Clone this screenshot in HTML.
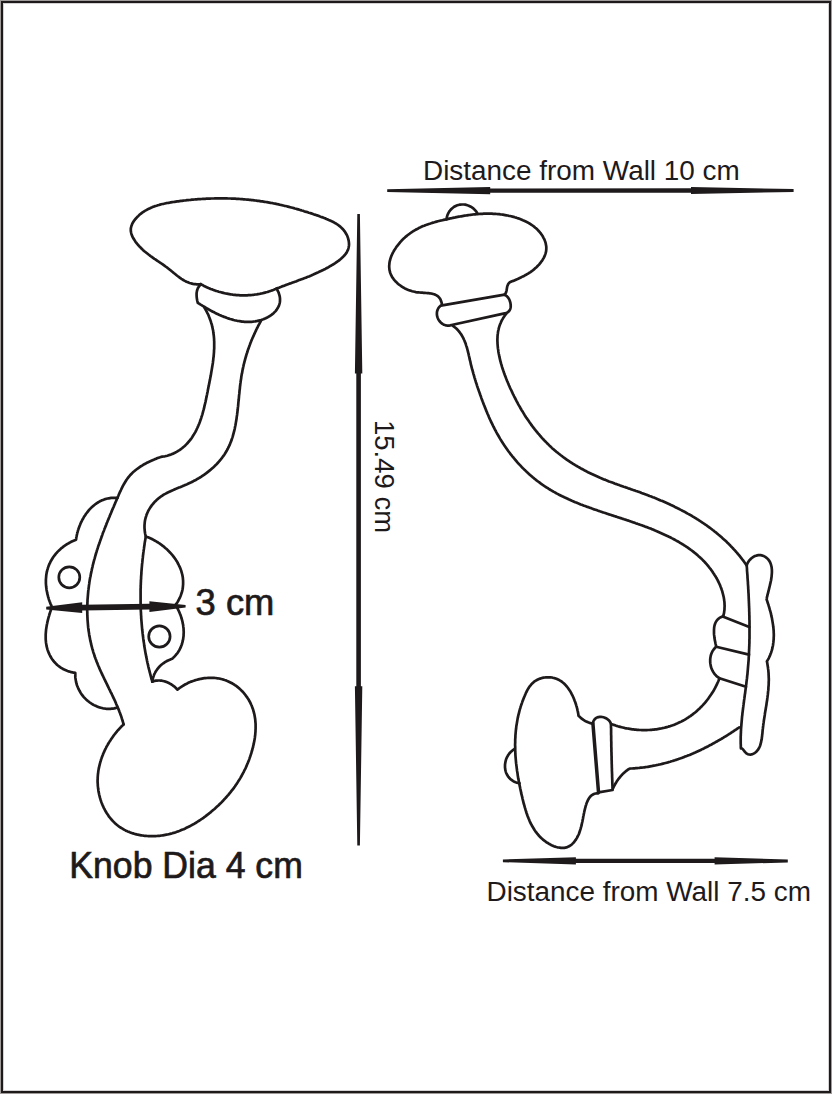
<!DOCTYPE html>
<html><head><meta charset="utf-8"><title>Hook dimensions</title>
<style>html,body{margin:0;padding:0;background:#fff;}body{width:832px;height:1094px;overflow:hidden;font-family:"Liberation Sans",sans-serif;}svg{display:block;}</style>
</head><body>
<svg width="832" height="1094" viewBox="0 0 832 1094">
<rect x="0" y="0" width="832" height="1094" fill="#a09b9b"/>
<rect x="1" y="1" width="830" height="1092" fill="#1e1a1b"/>
<rect x="3" y="3" width="826" height="1088" fill="#fff"/>
<rect x="3.5" y="3.5" width="825" height="1087" fill="none" stroke="#d4d2d2" stroke-width="1"/>
<g fill="none" stroke="#1e1a1b" stroke-width="2.7" stroke-linejoin="round" stroke-linecap="round">
<path d="M200.8 284.2L199.4 284.3L198.1 284.3L196.8 284.3L195.5 284.2L194.3 284.1L193.1 283.9L191.9 283.6L190.7 283.3L189.6 283.0L188.5 282.6L187.4 282.1L186.4 281.7L185.3 281.1L184.3 280.6L183.3 280.0L182.3 279.4L181.3 278.8L180.4 278.1L179.4 277.4L178.5 276.7L177.5 276.0L176.6 275.3L175.7 274.5L174.8 273.8L173.8 273.0L172.9 272.2L172.0 271.5L171.1 270.7L170.1 270.0L169.2 269.2L168.2 268.5L167.3 267.7L166.3 267.0L165.3 266.3L164.4 265.6L163.4 264.9L162.4 264.2L161.4 263.5L160.4 262.8L159.4 262.2L158.4 261.5L157.4 260.8L156.4 260.1L155.4 259.4L154.4 258.8L153.4 258.1L152.4 257.4L151.4 256.7L150.4 256.0L149.5 255.2L148.5 254.5L147.6 253.8L146.6 253.0L145.7 252.3L144.7 251.5L143.8 250.7L142.9 249.9L142.0 249.0L141.2 248.2L140.3 247.3L139.4 246.5L138.6 245.5L137.8 244.6L137.0 243.7L136.2 242.7L135.5 241.7L134.8 240.6L134.1 239.6L133.5 238.5L132.9 237.5L132.3 236.4L131.9 235.3L131.5 234.2L131.2 233.1L131.0 232.0L130.8 230.9L130.8 229.8L130.8 228.7L131.0 227.6L131.3 226.5L131.6 225.4L132.0 224.4L132.5 223.3L133.1 222.3L133.7 221.3L134.4 220.3L135.1 219.4L135.9 218.5L136.7 217.6L137.5 216.7L138.4 215.9L139.2 215.1L140.1 214.3L141.0 213.6L141.9 212.9L142.9 212.2L143.8 211.6L144.8 210.9L145.8 210.4L146.8 209.8L147.8 209.2L148.9 208.7L150.0 208.2L151.0 207.7L152.1 207.3L153.2 206.8L154.3 206.4L155.5 206.0L156.6 205.7L157.8 205.3L158.9 205.0L160.1 204.6L161.3 204.3L162.5 204.0L163.7 203.8L164.9 203.5L166.1 203.2L167.3 203.0L168.5 202.8L169.7 202.6L170.9 202.3L172.2 202.1L173.4 202.0L174.6 201.8L175.9 201.6L177.1 201.4L178.3 201.3L179.6 201.1L180.8 200.9L182.0 200.8L183.3 200.6L184.5 200.5L185.7 200.4L187.0 200.2L188.2 200.1L189.4 200.0L190.6 199.9L191.9 199.7L193.1 199.6L194.3 199.5L195.5 199.4L196.7 199.3L198.0 199.2L199.2 199.2L200.4 199.1L201.6 199.0L202.8 198.9L204.0 198.9L205.2 198.8L206.4 198.7L207.7 198.7L208.9 198.6L210.1 198.6L211.3 198.5L212.5 198.5L213.7 198.5L214.9 198.4L216.1 198.4L217.3 198.4L218.5 198.4L219.7 198.4L220.9 198.4L222.1 198.4L223.3 198.4L224.5 198.4L225.7 198.4L226.9 198.4L228.0 198.5L229.2 198.5L230.4 198.5L231.6 198.6L232.8 198.6L234.0 198.7L235.2 198.7L236.4 198.8L237.6 198.9L238.7 198.9L239.9 199.0L241.1 199.1L242.3 199.2L243.5 199.3L244.7 199.4L245.8 199.5L247.0 199.6L248.2 199.7L249.4 199.8L250.5 199.9L251.7 200.1L252.9 200.2L254.1 200.3L255.2 200.5L256.4 200.6L257.6 200.8L258.8 200.9L259.9 201.1L261.1 201.3L262.3 201.4L263.4 201.6L264.6 201.8L265.8 202.0L266.9 202.2L268.1 202.4L269.3 202.6L270.4 202.8L271.6 203.0L272.8 203.2L273.9 203.5L275.1 203.7L276.2 203.9L277.4 204.2L278.6 204.4L279.7 204.7L280.9 205.0L282.0 205.2L283.2 205.5L284.4 205.8L285.5 206.0L286.7 206.3L287.8 206.6L289.0 206.9L290.2 207.2L291.3 207.5L292.5 207.8L293.7 208.1L294.8 208.5L296.0 208.8L297.1 209.1L298.3 209.4L299.5 209.8L300.6 210.1L301.8 210.5L303.0 210.8L304.1 211.2L305.3 211.6L306.5 211.9L307.7 212.3L308.8 212.7L310.0 213.0L311.2 213.4L312.4 213.8L313.5 214.2L314.7 214.6L315.9 215.0L317.1 215.4L318.3 215.8L319.5 216.3L320.6 216.7L321.8 217.1L323.0 217.5L324.2 218.0L325.4 218.4L326.5 218.9L327.7 219.4L328.8 219.9L330.0 220.4L331.1 220.9L332.2 221.5L333.3 222.0L334.3 222.6L335.4 223.2L336.4 223.8L337.4 224.5L338.4 225.2L339.3 225.9L340.2 226.6L341.1 227.4L341.9 228.2L342.7 229.0L343.5 229.9L344.2 230.8L344.9 231.7L345.5 232.7L346.1 233.7L346.7 234.7L347.2 235.8L347.6 236.9L348.0 238.0L348.3 239.1L348.6 240.3L348.8 241.4L348.9 242.5L349.0 243.7L349.0 244.8L348.9 245.9L348.7 247.0L348.5 248.1L348.2 249.2L347.8 250.2L347.3 251.2L346.8 252.2L346.2 253.2L345.5 254.1L344.8 255.0L344.0 255.9L343.1 256.8L342.3 257.6L341.3 258.5L340.4 259.3L339.4 260.1L338.4 260.9L337.3 261.6L336.2 262.4L335.2 263.1L334.1 263.8L333.0 264.5L331.9 265.1L330.8 265.8L329.7 266.4L328.6 267.1L327.5 267.7L326.4 268.3L325.3 268.9L324.2 269.4L323.1 270.0L322.0 270.5L320.9 271.1L319.8 271.6L318.7 272.1L317.7 272.6L316.6 273.1L315.5 273.6L314.4 274.1L313.3 274.6L312.3 275.0L311.2 275.5L310.1 275.9L309.0 276.4L307.9 276.8L306.8 277.2L305.8 277.7L304.7 278.1L303.6 278.5L302.5 278.9L301.4 279.3L300.3 279.7L299.2 280.1L298.1 280.5L297.0 280.9L295.9 281.4L294.8 281.8L293.7 282.2L292.6 282.6L291.5 283.0L290.4 283.4L289.2 283.8L288.1 284.2L287.0 284.6L285.8 285.0L284.7 285.5L283.6 285.9L282.4 286.3L281.3 286.8L280.1 287.2L278.9 287.7L277.8 288.1L276.6 288.6L275.5 289.1L274.3 289.6L273.2 290.0L272.0 290.4L270.9 290.8L269.7 291.2L268.6 291.6L267.4 292.0L266.2 292.3L265.1 292.6L263.9 292.9L262.7 293.2L261.6 293.5L260.4 293.7L259.2 294.0L258.0 294.2L256.8 294.4L255.6 294.5L254.4 294.7L253.2 294.8L252.0 295.0L250.8 295.1L249.6 295.2L248.4 295.2L247.2 295.3L246.0 295.3L244.8 295.4L243.6 295.4L242.4 295.4L241.2 295.3L240.0 295.3L238.8 295.2L237.6 295.1L236.4 295.1L235.2 294.9L234.0 294.8L232.8 294.7L231.7 294.5L230.5 294.3L229.3 294.1L228.1 293.9L226.9 293.7L225.7 293.5L224.5 293.2L223.4 292.9L222.2 292.6L221.0 292.3L219.9 292.0L218.7 291.7L217.6 291.3L216.4 291.0L215.2 290.6L214.1 290.2L213.0 289.8L211.8 289.3L210.7 288.9L209.6 288.4L208.5 288.0L207.3 287.5L206.2 287.0L205.1 286.4L204.0 285.9L203.0 285.3L201.9 284.8L200.8 284.2"/>
<path d="M200.8 284.6L199.8 285.4L199.0 286.4L198.3 287.4L197.8 288.4L197.4 289.5L197.0 290.7L196.8 291.9L196.6 293.1L196.6 294.4L196.6 295.6L196.7 296.9L196.8 298.1L197.0 299.3L197.2 300.5L197.5 301.7L197.8 302.8L198.7 303.4L199.7 304.0L200.6 304.6L201.6 305.2L202.6 305.8L203.6 306.4L204.6 307.0L205.6 307.6L206.6 308.2L207.6 308.8L208.7 309.4L209.7 310.0L210.8 310.6L211.9 311.2L213.0 311.8L214.1 312.3L215.2 312.9L216.3 313.4L217.4 313.9L218.5 314.5L219.6 315.0L220.8 315.5L221.9 316.0L223.1 316.4L224.2 316.9L225.4 317.3L226.5 317.8L227.7 318.2L228.9 318.6L230.1 319.0L231.3 319.3L232.4 319.6L233.6 320.0L234.8 320.3L236.0 320.5L237.2 320.8L238.4 321.0L239.6 321.2L240.8 321.4L242.0 321.6L243.2 321.7L244.4 321.8L245.6 321.9L246.8 321.9L248.0 321.9L249.2 321.9L250.4 321.9L251.6 321.8L252.8 321.7L254.0 321.5L255.2 321.4L256.4 321.2L257.6 320.9L258.8 320.6L260.0 320.3L261.1 320.0L262.3 319.6L263.4 319.2L264.5 318.7L265.7 318.2L266.7 317.7L267.8 317.2L268.8 316.6L269.8 316.0L270.8 315.3L271.8 314.6L272.7 313.9L273.5 313.2L274.3 312.4L275.1 311.6L275.8 310.8L276.5 309.9L277.1 309.0L277.7 308.1L278.2 307.2L278.7 306.2L279.1 305.2L279.4 304.2L279.7 303.1L279.9 302.0L280.0 300.9L280.0 299.8L280.0 298.7L279.9 297.5L279.7 296.3L279.4 295.1L279.0 293.8L278.6 292.5L278.0 291.3L277.3 289.9L276.6 288.6"/>
<path d="M204.4 307.6L205.1 308.7L205.7 309.8L206.3 310.9L206.9 312.0L207.4 313.1L208.0 314.2L208.5 315.3L208.9 316.4L209.4 317.6L209.8 318.7L210.2 319.8L210.6 320.9L211.0 322.1L211.3 323.2L211.7 324.3L212.0 325.4L212.2 326.6L212.5 327.7L212.7 328.9L213.0 330.0L213.2 331.1L213.3 332.3L213.5 333.4L213.6 334.6L213.8 335.7L213.9 336.9L214.0 338.0L214.1 339.2L214.1 340.4L214.2 341.5L214.2 342.7L214.2 343.8L214.2 345.0L214.2 346.2L214.2 347.3L214.2 348.5L214.1 349.7L214.0 350.9L214.0 352.0L213.9 353.2L213.8 354.4L213.7 355.6L213.6 356.8L213.4 358.0L213.3 359.2L213.2 360.3L213.0 361.5L212.9 362.7L212.7 363.9L212.5 365.1L212.3 366.3L212.1 367.5L211.9 368.7L211.7 369.9L211.5 371.1L211.3 372.3L211.1 373.5L210.9 374.7L210.7 375.9L210.4 377.2L210.2 378.4L210.0 379.6L209.7 380.8L209.5 382.0L209.3 383.2L209.0 384.4L208.8 385.7L208.5 386.9L208.3 388.1L208.0 389.3L207.8 390.6L207.6 391.8L207.3 393.0L207.1 394.2L206.8 395.5L206.6 396.7L206.3 397.9L206.1 399.1L205.8 400.3L205.6 401.5L205.3 402.8L205.0 404.0L204.7 405.2L204.4 406.4L204.2 407.6L203.9 408.7L203.6 409.9L203.2 411.1L202.9 412.3L202.6 413.5L202.3 414.6L201.9 415.8L201.5 416.9L201.2 418.1L200.8 419.2L200.4 420.3L200.0 421.5L199.6 422.6L199.2 423.7L198.7 424.8L198.3 425.8L197.8 426.9L197.3 428.0L196.8 429.0L196.3 430.1L195.8 431.1L195.3 432.1L194.7 433.1L194.1 434.1L193.5 435.1L192.9 436.0L192.3 437.0L191.7 437.9L191.0 438.9L190.3 439.8L189.6 440.7L188.9 441.5L188.1 442.4L187.4 443.3L186.6 444.1L185.8 444.9L185.0 445.7L184.1 446.5L183.2 447.2L182.3 448.0L181.4 448.7L180.5 449.4L179.5 450.1L178.5 450.7L177.5 451.3L176.5 451.9L175.4 452.5L174.4 453.0L173.3 453.6L172.1 454.0L171.0 454.5L169.8 454.9L168.6 455.3L167.4 455.7L166.2 456.0L164.9 456.3L163.6 456.5L162.3 456.7L161.0 456.9L159.9 457.3L158.7 457.7L157.6 458.1L156.5 458.6L155.3 459.0L154.2 459.5L153.1 459.9L151.9 460.4L150.8 460.9L149.7 461.5L148.6 462.0L147.5 462.6L146.4 463.1L145.3 463.7L144.2 464.3L143.1 464.9L142.1 465.6L141.0 466.2L140.0 466.9L139.0 467.6L138.0 468.3L137.0 469.0L136.1 469.7L135.1 470.5L134.2 471.3L133.3 472.0L132.4 472.9L131.6 473.7L130.8 474.5L130.0 475.4L129.2 476.3L128.5 477.2L127.8 478.1L127.1 479.1L126.4 480.0L125.8 481.0L125.2 482.0L124.6 483.0L124.0 484.0L123.4 485.0L122.9 486.0L122.3 487.1L121.8 488.1L121.3 489.2L120.8 490.3L120.3 491.3L119.8 492.4L119.3 493.5L118.8 494.6L118.4 495.7L117.9 496.8L117.4 497.9L116.9 499.0L116.5 500.1L116.0 501.2L115.5 502.3L115.1 503.4L114.6 504.5L114.1 505.6L113.7 506.7L113.2 507.8L112.7 508.9L112.2 510.0L111.8 511.1L111.3 512.2L110.9 513.3L110.4 514.4L109.9 515.5L109.5 516.7L109.0 517.8L108.6 518.9L108.1 520.0L107.6 521.1L107.2 522.2L106.7 523.3L106.3 524.5L105.9 525.6L105.4 526.7L105.0 527.8L104.5 528.9L104.1 530.1L103.7 531.2L103.2 532.3L102.8 533.4L102.4 534.6L102.0 535.7L101.6 536.8L101.2 538.0L100.8 539.1L100.4 540.2L100.0 541.4L99.6 542.5L99.2 543.7L98.8 544.8L98.4 545.9L98.0 547.1L97.7 548.2L97.3 549.4L96.9 550.5L96.6 551.7L96.2 552.8L95.9 554.0L95.5 555.2L95.2 556.3L94.9 557.5L94.6 558.6L94.2 559.8L93.9 561.0L93.6 562.1L93.3 563.3L93.0 564.5L92.7 565.6L92.5 566.8L92.2 568.0L91.9 569.2L91.7 570.3L91.4 571.5L91.2 572.7L90.9 573.9L90.7 575.1L90.5 576.3L90.2 577.5L90.0 578.6L89.8 579.8L89.6 581.0L89.4 582.2L89.3 583.4L89.1 584.6L88.9 585.8L88.8 587.0L88.6 588.2L88.5 589.4L88.3 590.6L88.2 591.8L88.1 593.0L88.0 594.2L87.9 595.4L87.8 596.6L87.7 597.8L87.6 599.0L87.5 600.2L87.5 601.4L87.4 602.6L87.4 603.8L87.3 605.0L87.3 606.2L87.3 607.4L87.3 608.6L87.2 609.8L87.2 611.0L87.3 612.2L87.3 613.4L87.3 614.6L87.4 615.7L87.4 616.9L87.5 618.1L87.5 619.3L87.6 620.5L87.7 621.7L87.8 622.9L87.9 624.1L88.0 625.3L88.1 626.5L88.2 627.7L88.4 628.8L88.5 630.0L88.7 631.2L88.9 632.4L89.1 633.6L89.2 634.7L89.4 635.9L89.7 637.1L89.9 638.2L90.1 639.4L90.3 640.6L90.6 641.7L90.9 642.9L91.1 644.1L91.4 645.2L91.7 646.4L92.0 647.5L92.3 648.7L92.7 649.8L93.0 651.0L93.3 652.1L93.7 653.3L94.1 654.4L94.4 655.5L94.8 656.7L95.2 657.8L95.6 658.9L96.1 660.1L96.5 661.2L96.9 662.3L97.4 663.4L97.8 664.5L98.3 665.7L98.8 666.8L99.2 667.9L99.7 669.0L100.2 670.1L100.7 671.2L101.2 672.3L101.7 673.4L102.2 674.5L102.8 675.6L103.3 676.7L103.8 677.8L104.3 678.9L104.9 680.0L105.4 681.1L105.9 682.2L106.5 683.3L107.0 684.4L107.5 685.5L108.1 686.6L108.6 687.7L109.1 688.8L109.7 689.9L110.2 691.0L110.7 692.1L111.3 693.2L111.8 694.2L112.3 695.3L112.8 696.4L113.3 697.5L113.9 698.6L114.4 699.7L114.9 700.8L115.4 701.9L115.9 703.1L116.3 704.2L116.8 705.3L117.3 706.4L117.8 707.5L118.2 708.6L118.7 709.7L119.1 710.8L119.5 711.9L120.0 713.1L120.4 714.2L120.8 715.3L121.2 716.4L121.6 717.6L121.9 718.7L122.3 719.8L122.6 721.0L123.0 722.1L123.3 723.3L123.6 724.4"/>
<path d="M260.9 320.9L260.3 322.0L259.7 323.1L259.2 324.1L258.6 325.2L258.0 326.3L257.5 327.4L256.9 328.5L256.4 329.5L255.9 330.6L255.4 331.7L254.9 332.8L254.4 333.9L253.9 335.0L253.4 336.1L252.9 337.2L252.4 338.3L252.0 339.3L251.5 340.4L251.1 341.5L250.6 342.6L250.2 343.7L249.8 344.9L249.4 346.0L249.0 347.1L248.6 348.2L248.2 349.3L247.8 350.4L247.5 351.5L247.1 352.7L246.7 353.8L246.4 354.9L246.1 356.0L245.7 357.2L245.4 358.3L245.1 359.4L244.8 360.6L244.5 361.7L244.2 362.9L243.9 364.0L243.6 365.2L243.4 366.3L243.1 367.5L242.9 368.7L242.6 369.8L242.4 371.0L242.2 372.2L242.0 373.4L241.7 374.5L241.5 375.7L241.3 376.9L241.2 378.1L241.0 379.3L240.8 380.5L240.6 381.7L240.5 382.9L240.3 384.1L240.2 385.3L240.0 386.6L239.9 387.8L239.8 389.0L239.6 390.2L239.5 391.4L239.4 392.7L239.3 393.9L239.1 395.1L239.0 396.3L238.9 397.6L238.8 398.8L238.7 400.0L238.5 401.3L238.4 402.5L238.3 403.7L238.2 404.9L238.1 406.2L237.9 407.4L237.8 408.6L237.7 409.8L237.5 411.1L237.4 412.3L237.2 413.5L237.1 414.7L236.9 415.9L236.7 417.1L236.6 418.3L236.4 419.5L236.2 420.7L236.0 421.9L235.8 423.1L235.6 424.3L235.4 425.5L235.1 426.6L234.9 427.8L234.7 429.0L234.4 430.1L234.1 431.3L233.8 432.4L233.5 433.6L233.2 434.7L232.9 435.8L232.6 436.9L232.2 438.1L231.8 439.2L231.5 440.3L231.1 441.4L230.6 442.4L230.2 443.5L229.8 444.6L229.3 445.6L228.8 446.7L228.3 447.7L227.8 448.8L227.2 449.8L226.7 450.8L226.1 451.8L225.5 452.8L224.9 453.8L224.3 454.7L223.6 455.7L222.9 456.6L222.2 457.6L221.5 458.5L220.8 459.4L220.0 460.3L219.3 461.2L218.5 462.1L217.7 463.0L216.9 463.9L216.0 464.7L215.2 465.6L214.3 466.4L213.5 467.2L212.6 468.0L211.7 468.8L210.8 469.6L209.8 470.4L208.9 471.1L207.9 471.9L207.0 472.6L206.0 473.4L205.0 474.1L204.0 474.8L203.0 475.5L202.0 476.1L201.0 476.8L199.9 477.5L198.9 478.1L197.8 478.7L196.7 479.4L195.7 480.0L194.6 480.6L193.5 481.1L192.4 481.7L191.3 482.3L190.2 482.8L189.1 483.3L188.0 483.8L186.8 484.4L185.7 484.8L184.6 485.3L183.4 485.8L182.3 486.3L181.2 486.7L180.0 487.2L178.9 487.6L177.8 488.1L176.6 488.6L175.5 489.0L174.4 489.5L173.3 490.0L172.2 490.4L171.1 490.9L170.0 491.4L168.9 491.9L167.8 492.5L166.8 493.0L165.7 493.6L164.7 494.1L163.7 494.7L162.7 495.4L161.7 496.0L160.7 496.7L159.8 497.4L158.8 498.1L157.9 498.9L157.1 499.6L156.2 500.4L155.4 501.3L154.5 502.1L153.8 503.0L153.0 503.9L152.2 504.8L151.5 505.7L150.9 506.7L150.2 507.6L149.6 508.6L149.0 509.6L148.4 510.7L147.9 511.7L147.4 512.8L147.0 513.9L146.5 514.9L146.2 516.1L145.8 517.2L145.5 518.3L145.2 519.5L145.0 520.6L144.8 521.8L144.7 523.0L144.6 524.2L144.5 525.4L144.5 526.6L144.5 527.8L144.6 529.1L144.7 530.3L144.8 531.5L145.0 532.8L145.2 534.0L145.5 535.3L145.8 536.5L145.6 537.7L145.4 538.9L145.2 540.1L145.0 541.2L144.8 542.4L144.6 543.6L144.5 544.8L144.3 546.0L144.1 547.2L144.0 548.4L143.8 549.6L143.6 550.8L143.5 551.9L143.3 553.1L143.2 554.3L143.0 555.5L142.9 556.7L142.8 557.9L142.6 559.1L142.5 560.3L142.4 561.5L142.3 562.7L142.1 563.9L142.0 565.1L141.9 566.3L141.8 567.5L141.7 568.7L141.6 569.9L141.5 571.1L141.4 572.3L141.4 573.5L141.3 574.7L141.2 575.9L141.1 577.1L141.1 578.3L141.0 579.5L140.9 580.7L140.9 581.9L140.8 583.1L140.8 584.3L140.7 585.5L140.7 586.7L140.7 587.9L140.6 589.1L140.6 590.3L140.6 591.5L140.6 592.7L140.6 593.9L140.6 595.1L140.6 596.3L140.6 597.5L140.6 598.7L140.6 599.9L140.6 601.1L140.6 602.3L140.6 603.5L140.7 604.7L140.7 605.9L140.7 607.1L140.8 608.3L140.8 609.5L140.8 610.7L140.9 611.9L141.0 613.1L141.0 614.3L141.1 615.5L141.2 616.7L141.2 617.9L141.3 619.1L141.4 620.3L141.5 621.5L141.6 622.7L141.7 623.9L141.8 625.1L141.9 626.3L142.0 627.5L142.1 628.7L142.2 629.8L142.4 631.0L142.5 632.2L142.6 633.4L142.8 634.6L142.9 635.8L143.1 637.0L143.2 638.2L143.4 639.4L143.5 640.6L143.7 641.7L143.9 642.9L144.1 644.1L144.2 645.3L144.4 646.5L144.6 647.7L144.8 648.9L145.0 650.0L145.2 651.2L145.4 652.4L145.6 653.6L145.9 654.8L146.1 655.9L146.3 657.1L146.6 658.3L146.8 659.5L147.0 660.6L147.3 661.8L147.5 663.0L147.8 664.2L148.1 665.3L148.3 666.5L148.6 667.7L148.9 668.8L149.2 670.0L149.5 671.2L149.8 672.3L150.1 673.5L150.4 674.7L150.7 675.8L151.0 677.0L151.3 678.1L151.6 679.3L152.0 680.4L152.3 681.6"/>
<path d="M117.5 498.0L116.2 497.9L114.9 497.8L113.7 497.8L112.4 497.9L111.2 497.9L110.0 498.1L108.8 498.3L107.6 498.5L106.5 498.8L105.3 499.1L104.2 499.5L103.1 499.9L102.0 500.3L101.0 500.8L99.9 501.3L98.9 501.9L97.9 502.5L96.9 503.1L95.9 503.8L95.0 504.5L94.1 505.2L93.2 506.0L92.3 506.8L91.4 507.6L90.6 508.4L89.7 509.3L88.9 510.2L88.2 511.1L87.4 512.1L86.7 513.0L85.9 514.0L85.3 515.0L84.6 516.1L83.9 517.1L83.3 518.2L82.7 519.2L82.1 520.3L81.6 521.4L81.0 522.5L80.5 523.6L80.1 524.8L79.6 525.9L79.2 527.1L78.7 528.2L78.4 529.4L78.0 530.5L77.7 531.7L77.3 532.8L77.1 534.0L76.8 535.2L76.6 536.3L76.3 537.5L76.2 538.7L76.0 539.8L74.8 540.3L73.6 540.8L72.4 541.3L71.3 541.8L70.2 542.4L69.1 543.0L68.0 543.6L66.9 544.2L65.9 544.9L64.8 545.6L63.8 546.3L62.9 547.1L61.9 547.8L61.0 548.6L60.1 549.4L59.2 550.2L58.3 551.1L57.5 551.9L56.7 552.8L55.9 553.7L55.2 554.6L54.4 555.6L53.7 556.5L53.0 557.5L52.4 558.5L51.8 559.5L51.2 560.5L50.6 561.5L50.1 562.6L49.6 563.7L49.1 564.7L48.7 565.8L48.3 566.9L47.9 568.0L47.6 569.2L47.2 570.3L47.0 571.4L46.7 572.6L46.5 573.8L46.3 574.9L46.2 576.1L46.1 577.3L46.0 578.5L45.9 579.7L45.9 580.9L45.9 582.1L45.9 583.3L46.0 584.6L46.1 585.8L46.2 587.0L46.4 588.2L46.5 589.4L46.7 590.7L47.0 591.9L47.2 593.1L47.5 594.3L47.8 595.5L48.1 596.7L48.5 597.9L48.8 599.1L49.2 600.3L49.6 601.4L50.1 602.6L50.5 603.7L51.0 604.9L51.5 606.0L52.0 607.1L51.6 608.2L51.2 609.3L50.8 610.4L50.4 611.5L50.0 612.6L49.7 613.8L49.3 614.9L49.0 616.1L48.6 617.3L48.3 618.5L48.0 619.7L47.7 620.9L47.4 622.1L47.2 623.3L46.9 624.5L46.7 625.7L46.5 626.9L46.3 628.2L46.1 629.4L46.0 630.6L45.9 631.8L45.8 633.1L45.7 634.3L45.7 635.5L45.7 636.7L45.7 637.9L45.7 639.1L45.8 640.3L45.9 641.5L46.0 642.7L46.2 643.9L46.4 645.0L46.6 646.2L46.9 647.3L47.2 648.5L47.5 649.6L47.9 650.7L48.3 651.8L48.7 652.9L49.2 653.9L49.7 655.0L50.2 656.0L50.8 657.0L51.4 658.0L52.0 658.9L52.7 659.9L53.4 660.8L54.1 661.7L54.9 662.5L55.7 663.4L56.5 664.2L57.3 665.0L58.2 665.7L59.1 666.4L60.1 667.1L61.1 667.8L62.1 668.4L63.1 669.0L64.2 669.6L65.3 670.1L66.5 670.6L67.6 671.0L68.8 671.4L70.1 671.8L71.3 672.2L72.6 672.4L73.9 672.7L75.3 672.9L75.3 674.2L75.3 675.4L75.3 676.7L75.4 677.9L75.6 679.2L75.8 680.4L76.0 681.6L76.3 682.8L76.6 684.0L77.0 685.2L77.4 686.3L77.9 687.5L78.4 688.6L78.9 689.7L79.5 690.8L80.1 691.8L80.7 692.9L81.4 693.9L82.1 694.9L82.8 695.8L83.6 696.8L84.4 697.7L85.3 698.6L86.1 699.4L87.0 700.2L87.9 701.0L88.9 701.8L89.8 702.5L90.8 703.2L91.9 703.9L92.9 704.5L94.0 705.1L95.0 705.6L96.1 706.1L97.2 706.6L98.4 707.0L99.5 707.4L100.7 707.7L101.9 708.0L103.0 708.3L104.2 708.5L105.5 708.7L106.7 708.8L107.9 708.8L109.2 708.8L110.4 708.8L111.7 708.7L112.9 708.6L114.2 708.4L115.4 708.1L116.7 707.8"/>
<path d="M145.8 536.5L146.9 536.9L148.0 537.3L149.2 537.8L150.3 538.3L151.4 538.8L152.4 539.3L153.5 539.9L154.6 540.5L155.7 541.1L156.7 541.7L157.8 542.3L158.8 543.0L159.8 543.7L160.8 544.4L161.8 545.1L162.8 545.9L163.8 546.6L164.7 547.4L165.6 548.2L166.6 549.0L167.5 549.9L168.3 550.7L169.2 551.6L170.0 552.5L170.9 553.4L171.7 554.3L172.5 555.2L173.2 556.2L173.9 557.1L174.7 558.1L175.3 559.1L176.0 560.1L176.6 561.1L177.3 562.1L177.8 563.2L178.4 564.2L178.9 565.3L179.4 566.3L179.9 567.4L180.4 568.5L180.8 569.6L181.2 570.7L181.5 571.8L181.8 572.9L182.1 574.0L182.4 575.2L182.6 576.3L182.8 577.4L182.9 578.6L183.0 579.7L183.1 580.9L183.1 582.0L183.1 583.2L183.1 584.3L183.0 585.5L182.9 586.7L182.8 587.8L182.6 589.0L182.4 590.1L182.1 591.3L181.8 592.5L181.4 593.6L181.0 594.8L180.6 595.9L180.1 597.1L179.6 598.2L179.0 599.3L178.4 600.5L177.8 601.6L177.1 602.7L176.3 603.8L175.5 604.9L176.1 605.9L176.7 607.0L177.3 608.0L177.9 609.1L178.4 610.2L178.9 611.3L179.4 612.4L179.9 613.6L180.4 614.7L180.8 615.9L181.2 617.1L181.5 618.3L181.9 619.5L182.2 620.7L182.5 621.9L182.7 623.1L183.0 624.3L183.2 625.5L183.3 626.7L183.5 628.0L183.6 629.2L183.6 630.4L183.7 631.6L183.7 632.8L183.6 634.1L183.6 635.3L183.5 636.5L183.3 637.7L183.2 638.9L182.9 640.1L182.7 641.2L182.4 642.4L182.1 643.5L181.7 644.7L181.3 645.8L180.9 646.9L180.4 648.0L179.8 649.1L179.3 650.2L178.6 651.2L178.0 652.2L177.3 653.3L176.5 654.2L175.7 655.2L174.9 656.1L174.0 657.0L173.1 657.9L172.1 658.8L170.9 659.2L169.8 659.7L168.6 660.2L167.5 660.7L166.4 661.3L165.4 661.9L164.3 662.6L163.3 663.3L162.4 664.0L161.4 664.8L160.5 665.6L159.6 666.5L158.8 667.3L158.0 668.3L157.3 669.2L156.6 670.2L155.9 671.2L155.3 672.2L154.8 673.3L154.2 674.4L153.8 675.6L153.4 676.7L153.0 677.9L152.7 679.1L152.5 680.3L152.3 681.6"/>
<path d="M123.6 724.4L122.8 725.2L121.9 726.0L121.1 726.9L120.3 727.7L119.5 728.6L118.7 729.5L117.9 730.3L117.1 731.2L116.4 732.2L115.6 733.1L114.9 734.0L114.1 735.0L113.4 735.9L112.7 736.9L112.0 737.9L111.3 738.9L110.7 739.9L110.0 740.9L109.4 741.9L108.7 743.0L108.1 744.0L107.5 745.1L106.9 746.1L106.3 747.2L105.8 748.3L105.2 749.4L104.7 750.5L104.2 751.6L103.7 752.7L103.2 753.8L102.8 755.0L102.3 756.1L101.9 757.2L101.5 758.4L101.1 759.5L100.8 760.7L100.4 761.8L100.1 763.0L99.8 764.2L99.5 765.4L99.2 766.6L99.0 767.7L98.7 768.9L98.5 770.1L98.3 771.3L98.2 772.5L98.0 773.7L97.9 774.9L97.8 776.1L97.7 777.4L97.7 778.6L97.6 779.8L97.6 781.0L97.6 782.2L97.7 783.4L97.8 784.7L97.8 785.9L98.0 787.1L98.1 788.3L98.3 789.5L98.4 790.7L98.6 791.9L98.9 793.1L99.1 794.3L99.4 795.5L99.7 796.7L100.0 797.9L100.4 799.1L100.7 800.2L101.1 801.4L101.5 802.5L102.0 803.7L102.4 804.8L102.9 805.9L103.4 807.0L103.9 808.1L104.5 809.2L105.0 810.2L105.6 811.3L106.2 812.3L106.8 813.3L107.5 814.3L108.2 815.3L108.8 816.3L109.5 817.2L110.3 818.1L111.0 819.0L111.8 819.9L112.6 820.8L113.4 821.6L114.2 822.4L115.0 823.2L115.9 824.0L116.8 824.8L117.7 825.5L118.6 826.2L119.5 826.9L120.5 827.5L121.5 828.1L122.5 828.7L123.5 829.3L124.5 829.9L125.5 830.4L126.6 830.9L127.6 831.4L128.7 831.8L129.8 832.3L130.9 832.7L132.0 833.1L133.1 833.4L134.3 833.8L135.4 834.1L136.5 834.4L137.7 834.7L138.9 834.9L140.0 835.1L141.2 835.3L142.4 835.5L143.6 835.7L144.8 835.8L146.0 835.9L147.2 836.0L148.4 836.1L149.6 836.1L150.8 836.2L152.0 836.2L153.2 836.2L154.4 836.1L155.6 836.1L156.9 836.0L158.1 835.9L159.3 835.8L160.5 835.7L161.7 835.5L162.9 835.3L164.1 835.1L165.3 834.9L166.4 834.7L167.6 834.5L168.8 834.2L170.0 833.9L171.1 833.6L172.3 833.3L173.5 832.9L174.6 832.6L175.8 832.2L176.9 831.8L178.0 831.4L179.2 831.0L180.3 830.6L181.4 830.1L182.6 829.6L183.7 829.2L184.8 828.7L185.9 828.1L187.0 827.6L188.1 827.1L189.2 826.5L190.2 826.0L191.3 825.4L192.4 824.8L193.4 824.2L194.5 823.6L195.5 823.0L196.6 822.3L197.6 821.7L198.6 821.0L199.7 820.3L200.7 819.7L201.7 819.0L202.7 818.3L203.7 817.6L204.7 816.8L205.7 816.1L206.6 815.4L207.6 814.6L208.6 813.9L209.5 813.1L210.5 812.4L211.4 811.6L212.3 810.8L213.2 810.0L214.2 809.2L215.1 808.4L216.0 807.6L216.8 806.8L217.7 806.0L218.6 805.2L219.5 804.3L220.3 803.5L221.2 802.7L222.0 801.8L222.8 801.0L223.6 800.1L224.4 799.2L225.2 798.4L226.0 797.5L226.8 796.6L227.6 795.7L228.4 794.8L229.1 793.9L229.9 793.0L230.6 792.1L231.3 791.2L232.1 790.2L232.8 789.3L233.5 788.4L234.2 787.4L234.9 786.5L235.5 785.5L236.2 784.5L236.9 783.6L237.5 782.6L238.1 781.6L238.8 780.6L239.4 779.6L240.0 778.6L240.6 777.6L241.2 776.5L241.8 775.5L242.3 774.5L242.9 773.4L243.5 772.4L244.0 771.3L244.5 770.2L245.1 769.1L245.6 768.1L246.1 767.0L246.6 765.9L247.0 764.8L247.5 763.6L248.0 762.5L248.4 761.4L248.9 760.2L249.3 759.1L249.7 757.9L250.1 756.8L250.5 755.6L250.9 754.4L251.3 753.2L251.6 752.0L252.0 750.8L252.3 749.6L252.6 748.4L253.0 747.2L253.2 746.0L253.5 744.8L253.8 743.6L254.0 742.3L254.3 741.1L254.5 739.9L254.7 738.7L254.9 737.4L255.0 736.2L255.2 735.0L255.3 733.7L255.4 732.5L255.5 731.3L255.5 730.1L255.6 728.8L255.6 727.6L255.6 726.4L255.6 725.2L255.6 724.0L255.5 722.8L255.4 721.6L255.3 720.4L255.2 719.2L255.0 718.0L254.8 716.8L254.6 715.6L254.4 714.5L254.1 713.3L253.8 712.2L253.5 711.1L253.2 709.9L252.8 708.8L252.4 707.7L252.0 706.6L251.6 705.5L251.1 704.5L250.6 703.4L250.1 702.3L249.5 701.3L249.0 700.3L248.4 699.3L247.7 698.3L247.1 697.3L246.4 696.4L245.7 695.4L245.0 694.5L244.3 693.6L243.5 692.7L242.8 691.9L242.0 691.0L241.1 690.2L240.3 689.4L239.5 688.6L238.6 687.9L237.7 687.1L236.8 686.4L235.8 685.7L234.9 685.1L233.9 684.4L232.9 683.8L232.0 683.3L230.9 682.7L229.9 682.2L228.9 681.7L227.8 681.2L226.7 680.8L225.6 680.3L224.5 680.0L223.4 679.6L222.3 679.3L221.2 679.0L220.0 678.7L218.9 678.5L217.7 678.3L216.5 678.2L215.3 678.0L214.1 677.9L212.9 677.9L211.7 677.8L210.5 677.8L209.3 677.8L208.1 677.9L206.9 678.0L205.6 678.1L204.4 678.2L203.2 678.4L202.0 678.6L200.8 678.8L199.5 679.1L198.3 679.4L197.1 679.7L195.9 680.0L194.7 680.4L193.6 680.8L192.4 681.2L191.2 681.6L190.1 682.1L188.9 682.6L187.8 683.1L186.7 683.7L185.6 684.2L184.5 684.8L183.4 685.5L182.4 686.1L181.3 686.8L180.3 687.5L179.3 688.2L178.4 688.9L177.4 689.7L176.6 688.8L175.8 687.9L174.9 687.1L174.0 686.3L173.0 685.6L172.0 684.8L171.0 684.2L169.9 683.6L168.8 683.0L167.7 682.5L166.6 682.0L165.4 681.6L164.3 681.3L163.1 681.0L161.9 680.7L160.7 680.6L159.5 680.5L158.3 680.5L157.1 680.6L155.8 680.7L154.7 680.9L153.5 681.2L152.3 681.6"/>
<path d="M441.9 304.5L441.7 303.0L441.3 301.7L440.9 300.5L440.4 299.4L439.9 298.5L439.2 297.6L438.5 296.8L437.8 296.2L436.9 295.6L436.1 295.1L435.1 294.6L434.1 294.3L433.1 294.0L432.0 293.7L430.9 293.5L429.8 293.3L428.6 293.2L427.4 293.1L426.2 293.0L424.9 292.9L423.7 292.8L422.4 292.7L421.1 292.7L419.8 292.5L418.5 292.4L417.2 292.3L415.9 292.1L414.6 291.8L413.4 291.5L412.1 291.2L410.9 290.8L409.6 290.4L408.4 290.0L407.2 289.5L406.0 288.9L404.9 288.4L403.8 287.8L402.7 287.1L401.6 286.5L400.6 285.7L399.6 285.0L398.6 284.3L397.7 283.5L396.8 282.6L395.9 281.8L395.1 280.9L394.4 280.1L393.6 279.1L393.0 278.2L392.3 277.3L391.8 276.3L391.3 275.3L390.8 274.3L390.4 273.3L390.0 272.2L389.8 271.2L389.5 270.2L389.4 269.1L389.3 268.0L389.2 266.9L389.2 265.8L389.3 264.8L389.4 263.7L389.5 262.6L389.7 261.4L390.0 260.3L390.3 259.2L390.6 258.1L391.0 257.0L391.4 255.9L391.9 254.8L392.4 253.7L392.9 252.6L393.5 251.6L394.1 250.5L394.8 249.4L395.5 248.4L396.2 247.3L396.9 246.3L397.7 245.3L398.5 244.3L399.3 243.3L400.1 242.3L401.0 241.4L401.8 240.4L402.7 239.5L403.7 238.6L404.6 237.8L405.5 236.9L406.5 236.1L407.5 235.3L408.5 234.5L409.5 233.8L410.5 233.0L411.5 232.3L412.5 231.7L413.5 231.0L414.6 230.4L415.6 229.8L416.7 229.2L417.7 228.7L418.8 228.1L419.9 227.6L420.9 227.1L422.0 226.6L423.1 226.1L424.2 225.7L425.3 225.2L426.5 224.8L427.6 224.4L428.7 224.0L429.8 223.7L431.0 223.3L432.1 222.9L433.2 222.6L434.4 222.3L435.5 221.9L436.7 221.6L437.8 221.3L439.0 221.0L440.1 220.7L441.3 220.5L442.5 220.2L443.6 219.9L444.8 219.6L446.0 219.4L447.1 219.1L448.3 218.9L449.5 218.6L450.6 218.3L451.8 218.1L453.0 217.8L454.1 217.6L455.3 217.4L456.5 217.1L457.7 216.9L458.8 216.7L460.0 216.5L461.2 216.3L462.4 216.1L463.5 215.9L464.7 215.7L465.9 215.5L467.1 215.3L468.3 215.1L469.4 215.0L470.6 214.8L471.8 214.7L473.0 214.5L474.2 214.4L475.4 214.3L476.6 214.2L477.7 214.1L478.9 214.0L480.1 213.9L481.3 213.8L482.5 213.8L483.7 213.7L484.9 213.7L486.1 213.7L487.2 213.7L488.4 213.7L489.6 213.7L490.8 213.7L492.0 213.7L493.2 213.8L494.4 213.9L495.6 213.9L496.8 214.0L498.0 214.1L499.2 214.2L500.4 214.4L501.6 214.5L502.8 214.7L504.0 214.9L505.2 215.1L506.4 215.3L507.6 215.5L508.8 215.8L510.0 216.0L511.2 216.3L512.4 216.6L513.6 216.9L514.8 217.3L516.0 217.6L517.1 218.0L518.3 218.4L519.5 218.8L520.6 219.2L521.8 219.7L522.9 220.2L524.1 220.7L525.2 221.2L526.3 221.7L527.3 222.3L528.4 222.9L529.5 223.5L530.5 224.1L531.5 224.8L532.5 225.5L533.5 226.2L534.4 226.9L535.3 227.7L536.2 228.4L537.1 229.3L537.9 230.1L538.7 231.0L539.5 231.9L540.3 232.8L541.0 233.7L541.7 234.7L542.4 235.7L543.0 236.8L543.5 237.8L544.1 238.9L544.6 240.0L545.0 241.1L545.4 242.2L545.7 243.3L545.9 244.5L546.1 245.6L546.3 246.7L546.3 247.9L546.3 249.1L546.2 250.2L546.1 251.3L545.8 252.5L545.5 253.6L545.1 254.8L544.7 255.9L544.2 257.0L543.6 258.1L543.0 259.1L542.4 260.2L541.7 261.2L540.9 262.2L540.2 263.2L539.4 264.2L538.5 265.1L537.6 266.0L536.8 266.9L535.8 267.8L534.9 268.6L534.0 269.4L533.0 270.2L532.1 270.9L531.1 271.6L530.1 272.3L529.1 272.9L528.1 273.6L527.1 274.2L526.1 274.8L525.0 275.3L524.0 275.9L522.9 276.4L521.9 276.9L520.8 277.5L519.7 278.0L518.7 278.5L517.6 279.0L516.5 279.4L515.4 279.9L514.3 280.4L513.2 280.9L512.0 281.3L510.9 281.8L509.8 282.3L508.8 283.2L508.1 284.2L507.6 285.4L507.2 286.6L507.0 287.8L506.8 289.0L506.6 290.3L506.3 291.5L505.9 292.7L505.4 293.7L504.6 294.7"/>
<path d="M446.5 219.4L446.7 218.0L447.0 216.6L447.4 215.3L447.9 214.1L448.5 212.9L449.1 211.8L449.8 210.8L450.6 209.9L451.4 209.0L452.3 208.2L453.2 207.5L454.1 206.8L455.2 206.2L456.2 205.7L457.3 205.3L458.4 205.0L459.5 204.7L460.6 204.6L461.8 204.5L462.9 204.5L464.1 204.5L465.2 204.7L466.4 204.9L467.5 205.3L468.7 205.7L469.8 206.2L470.8 206.7L471.9 207.4L472.9 208.1L473.9 209.0L474.8 209.9L475.7 210.9L476.5 211.9L477.3 213.1"/>
<path d="M440.8 305.6L504.6 294.7L505.6 295.3L506.6 296.0L507.5 296.9L508.3 297.9L509.0 299.0L509.6 300.3L510.0 301.5L510.4 302.8L510.6 304.2L510.7 305.5L510.7 306.8L510.5 308.0L510.2 309.2L509.6 310.3L508.9 311.2L508.1 312.0L507.0 312.7L505.7 313.1L451.6 325.0L450.2 325.4L448.9 325.6L447.6 325.6L446.3 325.4L445.1 325.1L444.0 324.7L442.9 324.1L441.9 323.5L441.0 322.7L440.1 321.8L439.4 320.9L438.7 319.9L438.1 318.8L437.6 317.7L437.3 316.6L437.0 315.4L436.9 314.2L436.9 313.0L437.0 311.8L437.3 310.7L437.7 309.5L438.2 308.5L438.9 307.4L439.8 306.5L440.8 305.6"/>
<path d="M452.7 325.6L453.7 326.4L454.7 327.2L455.7 328.0L456.6 328.8L457.5 329.7L458.3 330.6L459.0 331.5L459.8 332.4L460.5 333.4L461.1 334.3L461.7 335.3L462.3 336.3L462.9 337.4L463.4 338.4L463.9 339.5L464.4 340.5L464.8 341.6L465.3 342.7L465.7 343.8L466.0 344.9L466.4 346.1L466.8 347.2L467.1 348.3L467.4 349.5L467.7 350.6L468.0 351.8L468.3 353.0L468.6 354.2L468.8 355.3L469.1 356.5L469.4 357.7L469.6 358.9L469.9 360.1L470.2 361.2L470.5 362.4L470.7 363.6L471.0 364.8L471.3 365.9L471.6 367.1L471.9 368.3L472.2 369.5L472.6 370.6L472.9 371.8L473.2 372.9L473.5 374.1L473.9 375.3L474.2 376.4L474.5 377.6L474.9 378.7L475.2 379.9L475.6 381.0L475.9 382.2L476.3 383.3L476.7 384.4L477.0 385.6L477.4 386.7L477.8 387.9L478.2 389.0L478.6 390.1L479.0 391.3L479.4 392.4L479.8 393.5L480.2 394.7L480.6 395.8L481.0 396.9L481.4 398.1L481.8 399.2L482.2 400.3L482.6 401.4L483.1 402.6L483.5 403.7L483.9 404.8L484.4 405.9L484.8 407.0L485.2 408.1L485.7 409.3L486.1 410.4L486.6 411.5L487.1 412.6L487.5 413.7L488.0 414.8L488.5 415.9L488.9 417.0L489.4 418.1L489.9 419.2L490.4 420.3L490.9 421.4L491.4 422.5L492.0 423.5L492.5 424.6L493.0 425.7L493.5 426.8L494.1 427.8L494.6 428.9L495.2 430.0L495.8 431.0L496.3 432.1L496.9 433.2L497.5 434.2L498.1 435.3L498.7 436.3L499.3 437.3L499.9 438.4L500.5 439.4L501.2 440.4L501.8 441.5L502.5 442.5L503.1 443.5L503.8 444.5L504.4 445.5L505.1 446.5L505.8 447.5L506.5 448.5L507.2 449.5L507.9 450.5L508.6 451.5L509.4 452.5L510.1 453.4L510.8 454.4L511.6 455.3L512.3 456.3L513.1 457.2L513.9 458.2L514.7 459.1L515.4 460.0L516.2 460.9L517.0 461.9L517.8 462.8L518.6 463.7L519.5 464.6L520.3 465.4L521.1 466.3L521.9 467.2L522.8 468.1L523.6 468.9L524.5 469.8L525.4 470.6L526.2 471.4L527.1 472.3L528.0 473.1L528.9 473.9L529.8 474.7L530.7 475.5L531.6 476.3L532.5 477.1L533.4 477.8L534.3 478.6L535.2 479.3L536.2 480.1L537.1 480.8L538.1 481.5L539.0 482.2L540.0 482.9L540.9 483.6L541.9 484.3L542.9 485.0L543.8 485.7L544.8 486.3L545.8 487.0L546.8 487.6L547.8 488.2L548.8 488.9L549.8 489.5L550.8 490.1L551.8 490.7L552.8 491.3L553.9 491.9L554.9 492.4L555.9 493.0L557.0 493.6L558.0 494.1L559.1 494.7L560.1 495.2L561.2 495.8L562.2 496.3L563.3 496.8L564.3 497.3L565.4 497.8L566.5 498.3L567.6 498.8L568.6 499.3L569.7 499.8L570.8 500.3L571.9 500.8L573.0 501.2L574.1 501.7L575.2 502.2L576.3 502.6L577.4 503.1L578.5 503.5L579.6 503.9L580.7 504.4L581.8 504.8L582.9 505.2L584.1 505.7L585.2 506.1L586.3 506.5L587.4 506.9L588.6 507.3L589.7 507.7L590.8 508.1L592.0 508.6L593.1 509.0L594.2 509.4L595.4 509.7L596.5 510.1L597.6 510.5L598.8 510.9L599.9 511.3L601.1 511.7L602.2 512.1L603.4 512.5L604.5 512.8L605.7 513.2L606.8 513.6L608.0 514.0L609.1 514.4L610.3 514.7L611.4 515.1L612.6 515.5L613.8 515.9L614.9 516.2L616.1 516.6L617.2 517.0L618.4 517.4L619.5 517.7L620.7 518.1L621.9 518.5L623.0 518.9L624.2 519.3L625.3 519.6L626.5 520.0L627.6 520.4L628.8 520.8L630.0 521.2L631.1 521.6L632.3 522.0L633.4 522.4L634.6 522.8L635.7 523.2L636.9 523.6L638.0 524.0L639.2 524.4L640.3 524.8L641.5 525.2L642.6 525.6L643.8 526.0L644.9 526.5L646.0 526.9L647.2 527.3L648.3 527.8L649.5 528.2L650.6 528.6L651.7 529.1L652.9 529.5L654.0 530.0L655.1 530.5L656.2 530.9L657.4 531.4L658.5 531.9L659.6 532.4L660.7 532.9L661.8 533.4L662.9 533.9L664.0 534.4L665.1 534.9L666.2 535.4L667.3 535.9L668.4 536.5L669.5 537.0L670.6 537.5L671.7 538.1L672.7 538.6L673.8 539.2L674.9 539.8L675.9 540.4L677.0 541.0L678.0 541.5L679.1 542.1L680.1 542.8L681.1 543.4L682.1 544.0L683.2 544.6L684.2 545.3L685.2 545.9L686.2 546.6L687.1 547.2L688.1 547.9L689.1 548.6L690.1 549.3L691.0 550.0L692.0 550.7L692.9 551.4L693.8 552.1L694.7 552.9L695.7 553.6L696.6 554.4L697.5 555.1L698.3 555.9L699.2 556.7L700.1 557.5L700.9 558.3L701.8 559.1L702.6 559.9L703.4 560.8L704.3 561.6L705.1 562.5L705.9 563.4L706.6 564.2L707.4 565.1L708.2 566.0L708.9 567.0L709.6 567.9L710.4 568.8L711.1 569.8L711.8 570.7L712.5 571.7L713.1 572.7L713.8 573.7L714.4 574.7L715.1 575.7L715.7 576.7L716.3 577.8L716.9 578.8L717.5 579.9L718.0 581.0L718.6 582.1L719.1 583.2L719.6 584.3L720.1 585.4L720.5 586.5L721.0 587.7L721.4 588.8L721.8 590.0L722.2 591.1L722.5 592.3L722.8 593.5L723.1 594.7L723.4 595.8L723.7 597.0L723.9 598.2L724.1 599.4L724.2 600.6L724.4 601.8L724.5 603.0L724.5 604.2L724.6 605.4L724.6 606.6L724.5 607.8L724.5 609.1L724.4 610.3L724.2 611.5L724.1 612.7L723.8 613.9L723.6 615.1L723.3 616.3"/>
<path d="M506.3 313.7L505.5 314.7L504.7 315.7L504.0 316.8L503.3 317.8L502.7 318.9L502.1 319.9L501.5 321.0L501.0 322.1L500.6 323.2L500.1 324.3L499.7 325.4L499.3 326.5L499.0 327.6L498.7 328.7L498.5 329.8L498.2 330.9L498.0 332.0L497.9 333.2L497.7 334.3L497.6 335.5L497.5 336.6L497.5 337.8L497.4 338.9L497.4 340.1L497.4 341.2L497.5 342.4L497.5 343.5L497.6 344.7L497.7 345.9L497.8 347.0L497.9 348.2L498.1 349.4L498.3 350.5L498.4 351.7L498.6 352.9L498.8 354.0L499.1 355.2L499.3 356.4L499.6 357.6L499.8 358.7L500.1 359.9L500.4 361.1L500.7 362.2L501.0 363.4L501.4 364.6L501.7 365.7L502.0 366.9L502.4 368.0L502.8 369.2L503.2 370.4L503.6 371.5L504.0 372.7L504.4 373.8L504.8 375.0L505.2 376.1L505.7 377.3L506.1 378.4L506.6 379.6L507.0 380.7L507.5 381.8L508.0 383.0L508.5 384.1L508.9 385.2L509.4 386.3L509.9 387.5L510.4 388.6L511.0 389.7L511.5 390.8L512.0 391.9L512.5 393.0L513.0 394.1L513.6 395.2L514.1 396.3L514.7 397.4L515.2 398.5L515.8 399.5L516.3 400.6L516.9 401.7L517.5 402.7L518.0 403.8L518.6 404.9L519.2 405.9L519.8 406.9L520.4 408.0L521.0 409.0L521.6 410.1L522.2 411.1L522.9 412.1L523.5 413.1L524.1 414.1L524.7 415.2L525.4 416.2L526.0 417.2L526.7 418.2L527.4 419.1L528.0 420.1L528.7 421.1L529.4 422.1L530.1 423.0L530.8 424.0L531.4 425.0L532.2 425.9L532.9 426.9L533.6 427.8L534.3 428.7L535.0 429.7L535.8 430.6L536.5 431.5L537.3 432.4L538.0 433.3L538.8 434.2L539.6 435.1L540.3 436.0L541.1 436.9L541.9 437.8L542.7 438.7L543.5 439.5L544.3 440.4L545.1 441.3L546.0 442.1L546.8 442.9L547.6 443.8L548.5 444.6L549.3 445.4L550.2 446.2L551.1 447.1L551.9 447.9L552.8 448.7L553.7 449.4L554.6 450.2L555.5 451.0L556.4 451.8L557.4 452.5L558.3 453.3L559.2 454.0L560.2 454.8L561.1 455.5L562.1 456.2L563.1 457.0L564.0 457.7L565.0 458.4L566.0 459.1L567.0 459.8L568.0 460.5L569.0 461.1L570.0 461.8L571.0 462.5L572.1 463.1L573.1 463.8L574.1 464.4L575.2 465.1L576.2 465.7L577.3 466.3L578.3 466.9L579.4 467.5L580.4 468.1L581.5 468.7L582.6 469.3L583.7 469.9L584.7 470.5L585.8 471.0L586.9 471.6L588.0 472.2L589.1 472.7L590.2 473.2L591.3 473.8L592.4 474.3L593.5 474.8L594.6 475.3L595.7 475.8L596.8 476.3L597.9 476.8L599.0 477.3L600.1 477.8L601.2 478.2L602.3 478.7L603.4 479.2L604.6 479.6L605.7 480.1L606.8 480.5L607.9 480.9L609.0 481.4L610.1 481.8L611.3 482.2L612.4 482.6L613.5 483.0L614.6 483.5L615.7 483.9L616.9 484.3L618.0 484.7L619.1 485.1L620.2 485.5L621.4 485.9L622.5 486.3L623.6 486.7L624.7 487.0L625.9 487.4L627.0 487.8L628.1 488.2L629.3 488.6L630.4 489.0L631.5 489.4L632.6 489.8L633.8 490.2L634.9 490.6L636.0 491.0L637.1 491.3L638.3 491.7L639.4 492.1L640.5 492.5L641.6 493.0L642.8 493.4L643.9 493.8L645.0 494.2L646.1 494.6L647.3 495.0L648.4 495.4L649.5 495.9L650.6 496.3L651.7 496.7L652.9 497.2L654.0 497.6L655.1 498.1L656.2 498.5L657.3 499.0L658.4 499.4L659.5 499.9L660.6 500.4L661.7 500.8L662.9 501.3L664.0 501.8L665.1 502.3L666.2 502.8L667.3 503.3L668.4 503.8L669.5 504.3L670.5 504.8L671.6 505.3L672.7 505.8L673.8 506.3L674.9 506.9L676.0 507.4L677.1 507.9L678.1 508.5L679.2 509.0L680.3 509.6L681.3 510.1L682.4 510.7L683.5 511.2L684.5 511.8L685.6 512.4L686.6 513.0L687.7 513.6L688.7 514.1L689.8 514.7L690.8 515.3L691.9 515.9L692.9 516.6L693.9 517.2L694.9 517.8L696.0 518.4L697.0 519.1L698.0 519.7L699.0 520.3L700.0 521.0L701.0 521.7L702.0 522.3L703.0 523.0L704.0 523.7L705.0 524.3L706.0 525.0L707.0 525.7L707.9 526.4L708.9 527.1L709.9 527.8L710.8 528.5L711.8 529.3L712.7 530.0L713.7 530.7L714.6 531.5L715.5 532.2L716.5 532.9L717.4 533.7L718.3 534.5L719.2 535.2L720.1 536.0L721.0 536.8L721.9 537.6L722.8 538.4L723.7 539.2L724.6 540.0L725.5 540.8L726.4 541.6L727.2 542.5L728.1 543.3L728.9 544.1L729.8 545.0L730.6 545.9L731.4 546.7L732.3 547.6L733.1 548.5L733.9 549.4L734.7 550.2L735.5 551.1L736.3 552.0L737.1 553.0L737.9 553.9L738.7 554.8L739.4 555.7L740.2 556.7L740.9 557.6L741.7 558.6L742.4 559.6L743.2 560.5L743.9 561.5L744.6 562.5L745.3 563.5L746.0 564.5L746.7 565.5"/>
<path d="M746.7 565.5L747.1 564.2L747.7 562.9L748.4 561.8L749.1 560.7L750.0 559.7L750.9 558.8L751.8 558.0L752.8 557.2L753.9 556.6L755.0 556.1L756.1 555.7L757.2 555.4L758.4 555.2L759.5 555.1L760.6 555.2L761.7 555.4L762.8 555.7L763.8 556.1L764.8 556.6L765.7 557.2L766.6 557.9L767.4 558.6L768.2 559.4L768.9 560.3L769.5 561.3L770.1 562.3L770.5 563.3L770.9 564.4L771.2 565.5L771.5 566.6L771.7 567.8L771.8 569.0L771.9 570.2L771.9 571.4L771.9 572.7L771.8 574.0L771.7 575.2L771.6 576.5L771.4 577.8L771.2 579.2L771.0 580.5L770.7 581.8L770.4 583.1L770.1 584.4L769.8 585.7L769.5 587.0L769.2 588.2L768.9 589.5L768.6 590.7L768.3 591.9L768.0 593.1L767.7 594.2L767.4 595.3L767.2 596.4L766.9 597.4L766.8 598.4L766.6 599.4L767.0 600.5L767.4 601.6L767.7 602.8L768.1 603.9L768.5 605.0L768.8 606.2L769.2 607.3L769.5 608.5L769.8 609.7L770.2 610.9L770.5 612.0L770.8 613.2L771.1 614.4L771.3 615.6L771.6 616.8L771.9 618.0L772.1 619.2L772.3 620.4L772.5 621.6L772.7 622.8L772.9 624.1L773.1 625.3L773.2 626.5L773.4 627.7L773.5 628.9L773.6 630.1L773.7 631.4L773.7 632.6L773.8 633.8L773.8 635.0L773.8 636.2L773.7 637.4L773.7 638.6L773.6 639.8L773.5 641.0L773.4 642.2L773.2 643.4L773.1 644.6L772.9 645.8L772.6 646.9L772.4 648.1L772.1 649.3L771.8 650.4L771.4 651.6L771.1 652.7L770.6 653.8L770.2 655.0L769.7 656.1L769.2 657.2L768.7 658.3L768.1 659.4L767.5 660.4L766.9 661.5L767.2 662.7L767.4 664.0L767.6 665.2L767.8 666.5L768.0 667.7L768.1 668.9L768.3 670.1L768.4 671.3L768.5 672.5L768.6 673.7L768.6 674.9L768.7 676.1L768.7 677.3L768.8 678.5L768.8 679.7L768.8 680.9L768.7 682.0L768.7 683.2L768.7 684.4L768.6 685.6L768.5 686.7L768.4 687.9L768.4 689.1L768.3 690.2L768.1 691.4L768.0 692.6L767.9 693.7L767.8 694.9L767.6 696.1L767.5 697.2L767.3 698.4L767.2 699.6L767.0 700.8L766.8 701.9L766.6 703.1L766.5 704.3L766.3 705.4L766.1 706.6L765.9 707.8L765.7 709.0L765.5 710.2L765.3 711.4L765.1 712.5L764.9 713.7L764.8 714.9L764.6 716.1L764.4 717.3L764.2 718.6L764.0 719.8L763.8 721.0L763.7 722.2L763.5 723.4L763.3 724.7L763.2 725.9L763.0 727.2L762.9 728.4L762.7 729.7L762.6 730.9L762.5 732.2L762.4 733.5L762.2 734.7L762.1 736.0L761.9 737.2L761.8 738.5L761.6 739.7L761.3 740.9L761.1 742.1L760.8 743.2L760.5 744.3L760.2 745.4L759.8 746.5L759.3 747.5L758.8 748.4L758.3 749.3L757.6 750.2L757.0 751.0L756.2 751.8L755.4 752.5L754.5 753.1L753.5 753.7L752.5 754.1L751.4 754.4L750.3 754.6L749.1 754.5L748.0 754.2L746.8 753.6L745.7 752.7L744.6 751.5L743.6 750.2L742.6 749.0L741.7 748.3L740.9 748.4L740.8 747.2L740.8 746.0L740.8 744.8L740.7 743.6L740.7 742.4L740.7 741.2L740.7 740.1L740.7 738.9L740.7 737.7L740.7 736.5L740.8 735.3L740.8 734.1L740.9 732.9L740.9 731.7L741.0 730.5L741.0 729.3L741.1 728.1L741.2 727.0L741.3 725.8L741.4 724.6L741.5 723.4L741.6 722.2L741.7 721.0L741.8 719.8L741.9 718.6L742.0 717.4L742.1 716.3L742.3 715.1L742.4 713.9L742.5 712.7L742.7 711.5L742.8 710.3L743.0 709.1L743.1 707.9L743.3 706.7L743.4 705.6L743.6 704.4L743.7 703.2L743.9 702.0L744.0 700.8L744.2 699.6L744.4 698.4L744.5 697.2L744.7 696.0L744.8 694.9L745.0 693.7L745.2 692.5L745.3 691.3L745.5 690.1L745.6 688.9L745.8 687.7L745.9 686.5L746.1 685.3L746.3 684.1L746.4 683.0L746.5 681.8L746.7 680.6L746.8 679.4L747.0 678.2L747.1 677.0L747.2 675.8L747.4 674.6L747.5 673.4L747.6 672.2L747.7 671.0L747.8 669.8L747.9 668.6L748.0 667.4L748.1 666.2L748.2 665.1L748.3 663.9L748.4 662.7L748.5 661.5L748.6 660.3L748.7 659.1L748.7 657.9L748.8 656.7L748.9 655.5L748.9 654.3L749.0 653.1L749.0 651.9L749.1 650.7L749.1 649.5L749.2 648.3L749.2 647.1L749.3 645.9L749.3 644.7L749.4 643.5L749.4 642.3L749.4 641.1L749.4 639.9L749.5 638.7L749.5 637.5L749.5 636.3L749.5 635.1L749.5 633.9L749.5 632.7L749.5 631.5L749.5 630.3L749.5 629.1L749.5 627.9L749.5 626.7L749.5 625.5L749.5 624.3L749.5 623.1L749.5 621.9L749.5 620.7L749.4 619.5L749.4 618.3L749.4 617.1L749.4 615.9L749.3 614.7L749.3 613.5L749.3 612.3L749.2 611.1L749.2 609.9L749.2 608.7L749.1 607.5L749.1 606.3L749.0 605.1L749.0 603.9L748.9 602.7L748.9 601.5L748.8 600.3L748.8 599.1L748.7 597.9L748.7 596.7L748.6 595.5L748.6 594.3L748.5 593.1L748.4 591.9L748.4 590.7L748.3 589.5L748.2 588.3L748.2 587.1L748.1 585.9L748.0 584.7L747.9 583.5L747.9 582.3L747.8 581.1L747.7 579.9L747.6 578.7L747.5 577.5L747.5 576.3L747.4 575.1L747.3 573.9L747.2 572.7L747.1 571.5L747.0 570.3L747.0 569.1L746.9 567.9L746.8 566.7L746.7 565.5"/>
<path d="M722.7 616.5L749.3 627.0"/>
<path d="M722.7 616.5L721.4 617.0L720.2 617.5L719.2 618.2L718.3 618.9L717.4 619.8L716.7 620.6L716.1 621.6L715.5 622.6L715.1 623.7L714.7 624.8L714.4 626.0L714.2 627.2L714.1 628.5L714.0 629.7L714.0 631.0L714.0 632.3L714.0 633.6L714.1 634.9L714.3 636.2L714.4 637.5L714.6 638.8L714.8 640.1L715.1 641.3L715.3 642.5L715.5 643.6L715.8 644.7L716.0 645.8L716.2 646.8L749.0 654.6"/>
<path d="M716.2 646.8L715.3 647.6L714.5 648.5L713.7 649.4L713.0 650.4L712.4 651.4L711.9 652.5L711.4 653.6L711.0 654.8L710.7 655.9L710.5 657.1L710.3 658.3L710.2 659.5L710.2 660.7L710.2 662.0L710.3 663.2L710.5 664.4L710.7 665.6L711.0 666.8L711.3 668.0L711.8 669.1L712.3 670.2L712.8 671.3L713.5 672.4L714.1 673.4L714.9 674.3L715.7 675.2L716.5 676.1L717.5 676.8L718.5 677.6L719.5 678.2L746.0 686.8"/>
<path d="M719.5 678.2L719.0 679.4L718.6 680.5L718.1 681.7L717.6 682.8L717.1 683.9L716.6 685.0L716.0 686.1L715.5 687.2L714.9 688.3L714.3 689.4L713.7 690.5L713.1 691.5L712.4 692.5L711.8 693.6L711.1 694.6L710.4 695.6L709.7 696.6L709.0 697.6L708.3 698.6L707.6 699.5L706.8 700.5L706.1 701.4L705.3 702.4L704.5 703.3L703.7 704.2L702.9 705.1L702.1 705.9L701.3 706.8L700.4 707.6L699.6 708.5L698.7 709.3L697.8 710.1L696.9 710.9L696.0 711.7L695.1 712.5L694.2 713.2L693.2 713.9L692.3 714.7L691.3 715.4L690.4 716.1L689.4 716.7L688.4 717.4L687.4 718.0L686.4 718.7L685.4 719.3L684.4 719.9L683.3 720.5L682.3 721.0L681.2 721.6L680.2 722.1L679.1 722.6L678.0 723.1L677.0 723.6L675.9 724.0L674.8 724.5L673.7 724.9L672.6 725.3L671.4 725.7L670.3 726.1L669.2 726.4L668.0 726.8L666.9 727.1L665.7 727.4L664.6 727.7L663.4 728.0L662.3 728.2L661.1 728.5L659.9 728.7L658.7 728.9L657.6 729.1L656.4 729.3L655.2 729.4L654.0 729.6L652.8 729.7L651.6 729.8L650.4 729.9L649.2 730.0L648.0 730.0L646.8 730.1L645.6 730.1L644.4 730.1L643.2 730.1L641.9 730.1L640.7 730.0L639.5 730.0L638.3 729.9L637.1 729.8L635.9 729.7L634.7 729.6L633.5 729.4L632.3 729.3L631.1 729.1L629.8 728.9L628.6 728.7L627.4 728.5L626.2 728.3L625.1 728.1L623.9 727.8L622.7 727.5L621.5 727.2L620.3 726.9L619.1 726.6L617.9 726.3L616.8 725.9L615.6 725.5L614.5 725.1L613.3 724.7L612.1 724.3L611.0 723.9"/>
<path d="M739.3 727.3L738.3 728.0L737.3 728.7L736.3 729.4L735.3 730.0L734.3 730.7L733.3 731.4L732.3 732.0L731.3 732.7L730.3 733.4L729.2 734.0L728.2 734.7L727.2 735.3L726.2 736.0L725.1 736.6L724.1 737.2L723.1 737.9L722.0 738.5L721.0 739.1L719.9 739.7L718.9 740.3L717.8 740.9L716.8 741.6L715.7 742.1L714.7 742.7L713.6 743.3L712.5 743.9L711.5 744.5L710.4 745.1L709.3 745.6L708.3 746.2L707.2 746.7L706.1 747.3L705.0 747.8L703.9 748.4L702.8 748.9L701.8 749.4L700.7 750.0L699.6 750.5L698.5 751.0L697.4 751.5L696.3 752.0L695.2 752.5L694.0 753.0L692.9 753.5L691.8 753.9L690.7 754.4L689.6 754.9L688.5 755.3L687.3 755.8L686.2 756.2L685.1 756.6L684.0 757.1L682.8 757.5L681.7 757.9L680.6 758.3L679.4 758.7L678.3 759.1L677.1 759.5L676.0 759.9L674.8 760.3L673.7 760.6L672.5 761.0L671.4 761.3L670.2 761.7L669.1 762.0L667.9 762.4L666.7 762.7L665.6 763.0L664.4 763.3L663.2 763.6L662.1 763.9L660.9 764.2L659.7 764.5L658.5 764.7L657.4 765.0L656.2 765.2L655.0 765.5L653.8 765.7L652.6 765.9L651.4 766.2L650.2 766.4L649.0 766.6L647.8 766.8L646.7 767.0L645.5 767.1L644.3 767.3L643.0 767.5L641.8 767.6L640.6 767.7L639.4 767.9L638.2 768.0L637.0 768.1L635.8 768.2L634.6 768.3L633.4 768.4L632.1 768.5L630.9 768.5L629.7 768.6L628.6 769.2L627.6 769.9L626.6 770.7L625.6 771.4L624.7 772.2L623.8 773.0L622.9 773.9L622.0 774.8L621.2 775.7L620.4 776.6L619.6 777.6L618.8 778.6L618.1 779.6L617.4 780.6L616.7 781.6L616.0 782.7L615.4 783.7L614.8 784.8L614.2 785.9L613.6 787.0L613.1 788.1"/>
<path d="M592.9 723.2L598.5 792.2" stroke-width="3.5"/>
<path d="M592.9 723.2L593.2 721.8L593.8 720.5L594.5 719.5L595.3 718.6L596.3 717.9L597.3 717.4L598.5 717.1L599.7 716.9L601.0 716.9L602.2 717.0L603.5 717.3L604.8 717.7L606.0 718.3L607.1 718.9L608.1 719.7L609.1 720.6L609.9 721.6L610.5 722.7L611.0 723.9L611.0 725.1L611.0 726.3L611.0 727.5L611.1 728.7L611.1 729.9L611.1 731.1L611.1 732.3L611.1 733.5L611.1 734.7L611.2 735.9L611.2 737.1L611.2 738.3L611.2 739.5L611.2 740.7L611.3 741.9L611.3 743.1L611.3 744.3L611.3 745.5L611.3 746.7L611.4 747.9L611.4 749.1L611.4 750.3L611.4 751.5L611.5 752.7L611.5 754.0L611.5 755.2L611.6 756.4L611.6 757.6L611.6 758.8L611.6 760.0L611.7 761.2L611.7 762.4L611.7 763.6L611.8 764.8L611.8 766.0L611.8 767.2L611.9 768.4L611.9 769.6L611.9 770.8L612.0 772.0L612.0 773.2L612.1 774.4L612.1 775.6L612.1 776.8L612.2 778.0L612.2 779.2L612.3 780.4L612.3 781.6L612.3 782.8L612.4 784.0L612.4 785.2L612.5 786.4L612.5 787.6L612.6 788.8L612.6 790.0L598.5 792.4"/>
<path d="M591.8 723.5L590.5 723.1L589.3 722.7L588.1 722.3L586.9 721.7L585.7 721.2L584.6 720.6L583.5 719.9L582.4 719.1L581.4 718.4L580.4 717.5L579.4 716.6L578.5 715.7L578.4 714.7L578.2 713.6L578.0 712.5L577.8 711.4L577.5 710.3L577.3 709.2L577.0 708.0L576.7 706.8L576.3 705.6L576.0 704.5L575.6 703.3L575.2 702.1L574.7 700.9L574.3 699.7L573.8 698.5L573.3 697.3L572.8 696.2L572.2 695.0L571.6 693.9L571.0 692.7L570.4 691.6L569.7 690.6L569.0 689.5L568.3 688.5L567.6 687.5L566.8 686.5L566.0 685.6L565.2 684.7L564.3 683.8L563.4 683.0L562.5 682.3L561.6 681.5L560.6 680.9L559.6 680.3L558.6 679.7L557.5 679.2L556.4 678.7L555.3 678.4L554.2 678.0L553.0 677.8L551.9 677.5L550.7 677.4L549.5 677.3L548.3 677.3L547.1 677.3L545.9 677.4L544.7 677.5L543.6 677.7L542.4 677.9L541.3 678.2L540.1 678.6L539.0 679.0L537.9 679.5L536.9 680.0L535.9 680.6L534.9 681.2L533.9 681.9L533.0 682.7L532.2 683.5L531.3 684.4L530.6 685.3L529.8 686.2L529.1 687.2L528.5 688.3L527.8 689.3L527.2 690.4L526.7 691.5L526.1 692.6L525.6 693.8L525.1 694.9L524.6 696.1L524.1 697.2L523.6 698.4L523.2 699.6L522.7 700.7L522.3 701.9L521.9 703.1L521.5 704.2L521.1 705.4L520.7 706.5L520.4 707.7L520.0 708.9L519.7 710.0L519.4 711.2L519.1 712.4L518.8 713.6L518.5 714.7L518.2 715.9L518.0 717.1L517.7 718.2L517.5 719.4L517.3 720.6L517.1 721.8L516.9 722.9L516.7 724.1L516.5 725.3L516.3 726.5L516.2 727.6L516.1 728.8L515.9 730.0L515.8 731.2L515.7 732.4L515.6 733.5L515.5 734.7L515.4 735.9L515.4 737.1L515.3 738.3L515.2 739.5L515.2 740.6L515.2 741.8L515.2 743.0L515.1 744.2L515.1 745.4L515.2 746.6L515.2 747.8L515.2 748.9L515.2 750.1L515.3 751.3L515.3 752.5L515.4 753.7L515.4 754.9L515.5 756.1L515.6 757.3L515.7 758.5L515.8 759.6L515.9 760.8L516.0 762.0L516.1 763.2L516.3 764.4L516.4 765.6L516.6 766.8L516.7 768.0L516.9 769.2L517.0 770.4L517.2 771.6L517.4 772.8L517.6 773.9L517.7 775.1L517.9 776.3L518.1 777.5L518.3 778.7L518.6 779.9L518.8 781.1L519.0 782.3L519.2 783.5L519.5 784.7L519.7 785.9L520.0 787.1L520.2 788.3L520.5 789.5L520.7 790.7L521.0 791.9L521.2 793.1L521.5 794.3L521.8 795.5L522.1 796.7L522.4 797.9L522.6 799.0L522.9 800.2L523.2 801.4L523.5 802.6L523.8 803.8L524.2 805.0L524.5 806.2L524.8 807.4L525.2 808.5L525.5 809.7L525.9 810.9L526.2 812.0L526.6 813.2L527.0 814.3L527.4 815.5L527.8 816.6L528.3 817.7L528.7 818.8L529.2 819.9L529.6 821.0L530.1 822.1L530.6 823.2L531.2 824.2L531.7 825.3L532.3 826.3L532.9 827.3L533.5 828.3L534.1 829.3L534.7 830.3L535.4 831.3L536.1 832.2L536.8 833.1L537.5 834.0L538.3 834.9L539.0 835.8L539.9 836.7L540.7 837.5L541.5 838.3L542.4 839.1L543.3 839.9L544.3 840.6L545.2 841.3L546.2 842.1L547.3 842.7L548.3 843.4L549.4 844.0L550.5 844.6L551.6 845.2L552.8 845.7L553.9 846.2L555.1 846.6L556.2 847.0L557.4 847.3L558.6 847.5L559.7 847.7L560.9 847.9L562.0 847.9L563.2 847.9L564.3 847.8L565.4 847.6L566.5 847.4L567.5 847.0L568.5 846.6L569.5 846.0L570.5 845.4L571.4 844.7L572.3 843.9L573.1 843.1L574.0 842.2L574.7 841.2L575.5 840.2L576.1 839.2L576.8 838.1L577.4 837.0L577.9 835.9L578.5 834.8L579.0 833.7L579.4 832.5L579.8 831.3L580.2 830.1L580.6 828.9L580.9 827.7L581.3 826.4L581.6 825.2L581.8 824.0L582.1 822.7L582.4 821.5L582.6 820.2L582.9 819.0L583.1 817.7L583.3 816.5L583.6 815.2L583.8 814.0L584.1 812.8L584.3 811.6L584.6 810.4L584.9 809.2L585.2 808.0L585.5 806.9L585.8 805.7L586.2 804.6L586.5 803.5L586.9 802.5L587.4 801.4L587.8 800.4L588.3 799.5L588.9 798.5L589.5 797.6L590.1 796.8L590.8 796.0L591.6 795.4L592.5 794.7L593.5 794.2L594.5 793.8L595.7 793.5L596.9 793.3L598.3 793.3"/>
<path d="M514.7 749.0L513.6 749.7L512.5 750.4L511.6 751.2L510.6 752.1L509.8 753.0L509.0 753.9L508.3 754.9L507.7 756.0L507.1 757.0L506.6 758.1L506.1 759.3L505.8 760.4L505.5 761.6L505.3 762.8L505.1 763.9L505.0 765.1L505.0 766.3L505.0 767.5L505.2 768.7L505.3 769.8L505.6 771.0L505.9 772.1L506.3 773.2L506.8 774.3L507.4 775.3L508.0 776.3L508.7 777.2L509.4 778.1L510.3 778.9L511.2 779.7L512.2 780.4L513.2 781.1L514.4 781.7L515.6 782.2L516.8 782.6L518.2 782.9L519.6 783.2"/>
<circle cx="69.3" cy="577.3" r="10.5"/>
<circle cx="159.4" cy="636.5" r="10.7"/>
</g>
<g fill="#1e1a1b">
<polygon points="387.2,189.2 490.2,187.0 490.2,188.4 691.0,188.3 691.0,186.9 793.6,189.1 793.6,191.9 691.0,194.1 691.0,192.7 490.2,192.8 490.2,194.2 387.2,192.0"/>
<polygon points="502.9,859.4 575.9,857.3 575.9,858.7 714.6,858.7 714.6,857.3 787.8,859.6 787.8,862.4 714.6,864.5 714.6,863.1 575.9,863.1 575.9,864.5 502.9,862.2"/>
<polygon points="357.3,213.9 354.9,373.5 356.3,373.5 356.3,686.2 354.9,686.2 357.3,845.5 359.9,845.5 362.3,686.2 360.9,686.2 360.9,373.5 362.3,373.5 359.9,213.9"/>
<polygon points="46.2,606.8 82.2,602.2 82.2,604.7 149.4,603.8 149.4,601.3 185.6,604.9 185.6,607.5 149.4,612.1 149.4,609.6 82.2,610.5 82.2,613.0 46.2,609.4"/>
</g>
<g fill="#1e1a1b" font-family="'Liberation Sans', sans-serif">
<text x="423.0" y="179.5" font-size="27" textLength="316.8" lengthAdjust="spacingAndGlyphs">Distance from Wall 10 cm</text>
<text x="486.5" y="900.7" font-size="27" textLength="324.4" lengthAdjust="spacingAndGlyphs">Distance from Wall 7.5 cm</text>
<text transform="translate(375 420) rotate(90)" x="0" y="0" font-size="27.5">15.49 cm</text>
</g>
<g fill="#1e1a1b" stroke="#1e1a1b" stroke-width="0.7" font-family="'Liberation Sans', sans-serif">
<text x="69.3" y="878.2" font-size="36" textLength="233.5" lengthAdjust="spacingAndGlyphs">Knob Dia 4 cm</text>
<text x="195.6" y="615" font-size="36.5" textLength="78.8" lengthAdjust="spacingAndGlyphs">3 cm</text>
</g>
</svg>
</body></html>
